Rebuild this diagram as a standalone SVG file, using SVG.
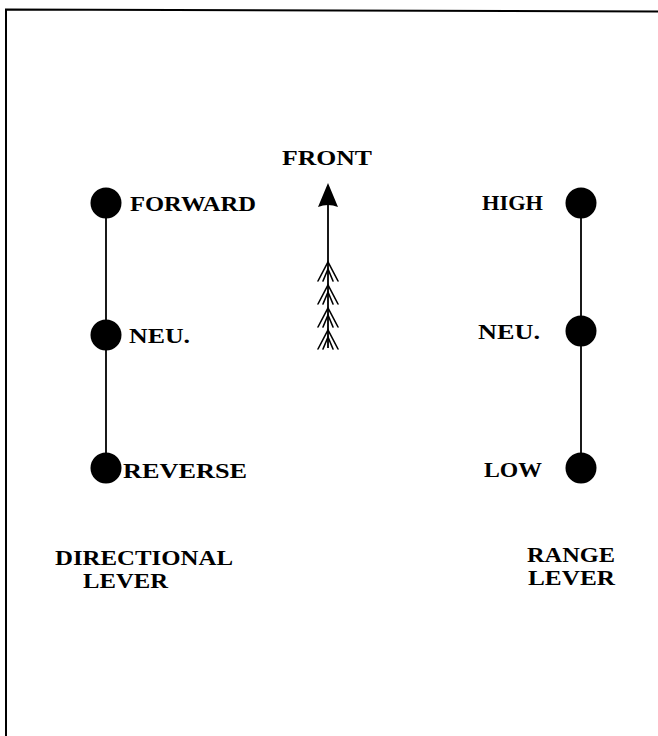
<svg xmlns="http://www.w3.org/2000/svg" width="658" height="736" viewBox="0 0 658 736">
  <style>
    .lbl { font-family: "Liberation Serif", "DejaVu Serif", serif; font-weight: bold; font-size: 22px; fill: #000; }
    .rod { stroke: #000; stroke-width: 1.8; fill: none; }
    .knob { fill: #000; }
    .frame { stroke: #000; stroke-width: 2; fill: none; }
    .fletch { stroke: #000; stroke-width: 1.6; fill: none; stroke-linecap: round; }
  </style>

  <rect width="658" height="736" fill="#fff"/>

  <!-- page frame (top and left edges) -->
  <path class="frame" d="M6,736 L6,9.5 L658,11.5"/>

  <!-- lever rods -->
  <g id="connectors">
    <line class="rod" x1="106" y1="203" x2="106" y2="468"/>
    <line class="rod" x1="581" y1="203" x2="581" y2="468"/>
  </g>

  <!-- directional lever positions -->
  <g id="dir-forward">
    <circle class="knob" cx="106" cy="203" r="15.5"/>
    <text class="lbl" x="130" y="211" textLength="126" lengthAdjust="spacingAndGlyphs">FORWARD</text>
  </g>
  <g id="dir-neutral">
    <circle class="knob" cx="106" cy="335" r="15.5"/>
    <text class="lbl" x="129" y="343" textLength="61" lengthAdjust="spacingAndGlyphs">NEU.</text>
  </g>
  <g id="dir-reverse">
    <circle class="knob" cx="106" cy="468" r="15.5"/>
    <text class="lbl" x="123" y="478" textLength="124" lengthAdjust="spacingAndGlyphs">REVERSE</text>
  </g>

  <!-- range lever positions -->
  <g id="range-high">
    <circle class="knob" cx="581" cy="203" r="15.5"/>
    <text class="lbl" x="482" y="210" textLength="61" lengthAdjust="spacingAndGlyphs">HIGH</text>
  </g>
  <g id="range-neutral">
    <circle class="knob" cx="581" cy="331" r="15.5"/>
    <text class="lbl" x="478" y="339" textLength="62" lengthAdjust="spacingAndGlyphs">NEU.</text>
  </g>
  <g id="range-low">
    <circle class="knob" cx="581" cy="468" r="15.5"/>
    <text class="lbl" x="484" y="477" textLength="58" lengthAdjust="spacingAndGlyphs">LOW</text>
  </g>

  <!-- front direction arrow -->
  <g id="front-arrow">
    <text class="lbl" x="282" y="165" textLength="90" lengthAdjust="spacingAndGlyphs">FRONT</text>
    <line x1="328" y1="200" x2="328" y2="348" stroke="#000" stroke-width="1.8"/>
    <path d="M328,183 L318,207 Q328,203 338,207 Z" fill="#000"/>
    <path class="fletch" d="M318,281 L328,262 L338,281 M323,281 L328,269 L333,281"/>
    <path class="fletch" d="M318,304 L328,285 L338,304 M323,304 L328,292 L333,304"/>
    <path class="fletch" d="M318,327 L328,308 L338,327 M323,327 L328,315 L333,327"/>
    <path class="fletch" d="M318,349 L328,330 L338,349 M323,349 L328,337 L333,349"/>
  </g>

  <!-- lever captions -->
  <g id="caption-directional">
    <text class="lbl" x="55" y="565" textLength="178" lengthAdjust="spacingAndGlyphs">DIRECTIONAL</text>
    <text class="lbl" x="83" y="588" textLength="85" lengthAdjust="spacingAndGlyphs">LEVER</text>
  </g>
  <g id="caption-range">
    <text class="lbl" x="527" y="562" textLength="88" lengthAdjust="spacingAndGlyphs">RANGE</text>
    <text class="lbl" x="528" y="585" textLength="87" lengthAdjust="spacingAndGlyphs">LEVER</text>
  </g>
</svg>
